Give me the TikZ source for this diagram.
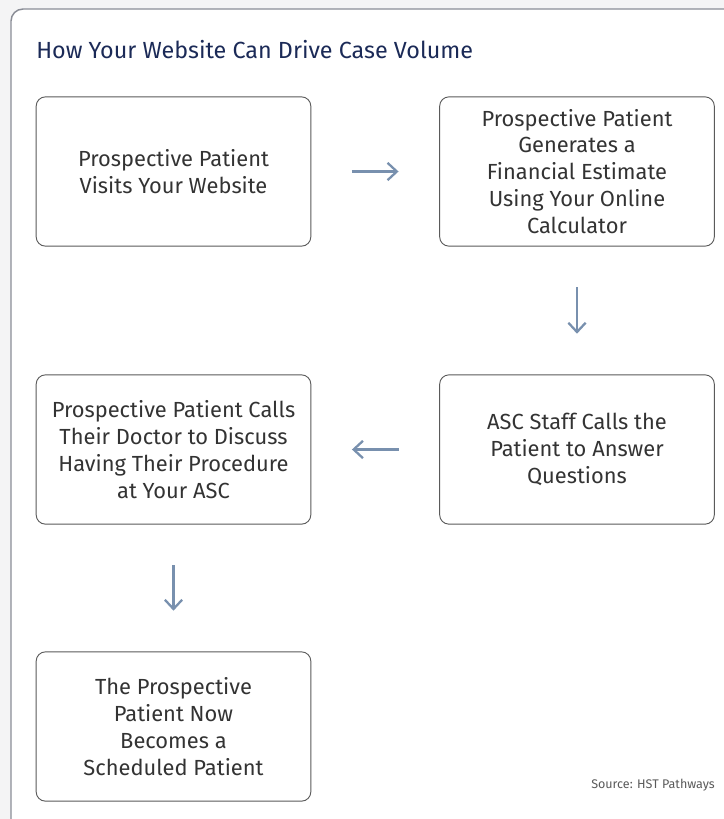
\documentclass[tikz,border=0pt]{standalone}
\usepackage{fontspec}
\setmainfont{Fira Sans}
\usetikzlibrary{arrows.meta}
\definecolor{pagegray}{HTML}{F4F4F5}
\definecolor{framegray}{HTML}{8A8D96}
\definecolor{boxgray}{HTML}{5A5A5A}
\definecolor{textgray}{HTML}{333333}
\definecolor{titlenavy}{HTML}{1B2A57}
\definecolor{arrowblue}{HTML}{7890AE}
\tikzset{
  stepbox/.style={draw=boxgray, line width=0.7pt, rounded corners=7pt, fill=white,
    minimum width=206pt, minimum height=112pt, align=center, text=textgray,
    font=\fontsize{16.4}{20.2}\selectfont},
  flow/.style={->, arrowblue, line width=1.7pt, shorten <=30.5pt, shorten >=30.5pt}
}
\begin{document}
\begin{tikzpicture}[x=0.75pt, y=-0.75pt, >={Straight Barb[length=7pt, width=13pt]}]
	\useasboundingbox (0,0) rectangle (724,819);
	\fill[pagegray] (0,0) rectangle (724,819);
	\begin{scope}
		\clip (0,0) rectangle (724,819);
		% outer frame
		\draw[framegray, line width=1.1pt, fill=white, rounded corners=9pt] (11,9) rectangle (760,860);
	\end{scope}
	
	% title
	\node[anchor=base west, text=titlenavy, font=\fontsize{17.5}{21}\selectfont, inner sep=0pt] (title) at (36,58) {How Your Website Can Drive Case Volume};
	
	% steps
	\node[stepbox] (visit) at (173.5,171.5) {Prospective Patient\\Visits Your Website};
	\node[stepbox] (estimate) at (577,171.5) {Prospective Patient\\Generates a\\Financial Estimate\\Using Your Online\\Calculator};
	\node[stepbox] (staff) at (577,449.5) {ASC Staff Calls the\\Patient to Answer\\Questions};
	\node[stepbox] (doctor) at (173.5,449.5) {Prospective Patient Calls\\Their Doctor to Discuss\\Having Their Procedure\\at Your ASC};
	\node[stepbox] (scheduled) at (173.5,726.5) {The Prospective\\Patient Now\\Becomes a\\Scheduled Patient};
	
	% arrows
	\draw[flow] (visit) -- (estimate);
	\draw[flow] (estimate) -- (staff);
	\draw[flow] (staff) -- (doctor);
	\draw[flow] (doctor) -- (scheduled);
	
	% source
	\node[anchor=base east, text=boxgray, font=\fontsize{9.4}{12}\selectfont, inner sep=0pt] (source) at (715,788) {Source: HST Pathways};
\end{tikzpicture}
\end{document}
